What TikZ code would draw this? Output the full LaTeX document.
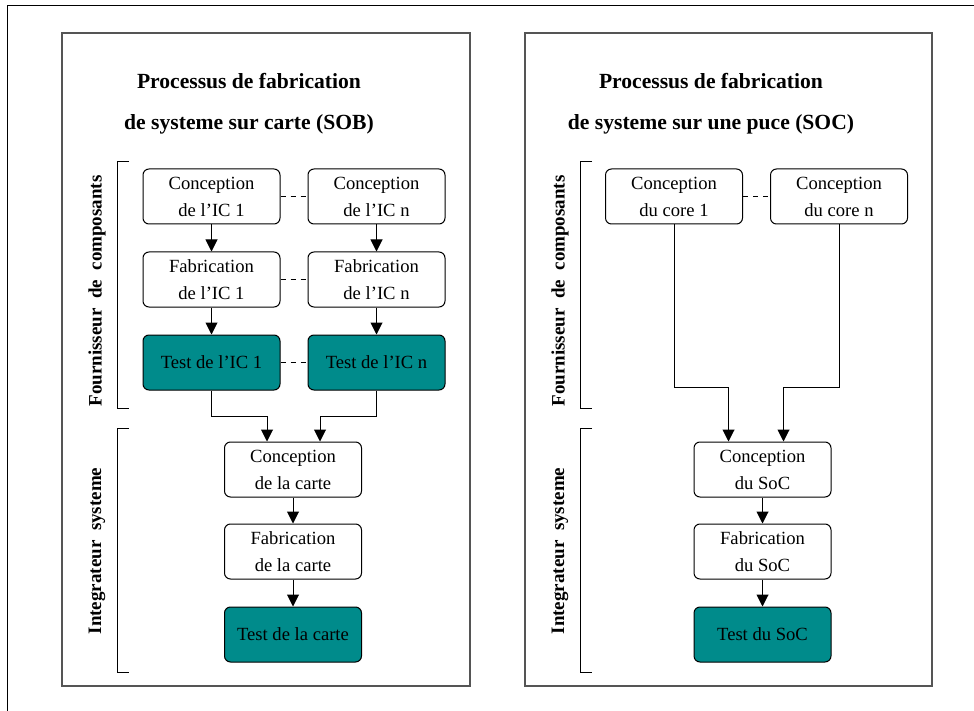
\documentclass[tikz,border=0pt]{standalone}
\usepackage{fontspec}
\setmainfont{Liberation Serif}
\usepackage{tikz}
\usetikzlibrary{arrows.meta, positioning}
\definecolor{socTeal}{HTML}{008B8B}
\definecolor{socFrame}{HTML}{555555}

\begin{document}
\begin{tikzpicture}[
  x=1pt, y=-1pt,
  node distance=27pt and 27pt,
  etape/.style={draw, fill=#1, line width=1pt, rounded corners=6pt,
                align=center, font=\fontsize{18.6}{27}\selectfont,
                minimum width=137pt, minimum height=55pt, inner sep=0pt},
  etape/.default=white,
  arr/.style={-{Triangle[length=12pt,width=12pt]}, line width=1pt},
  lien/.style={line width=1pt, dash pattern=on 5pt off 5pt},
  titre/.style={font=\fontsize{21.6}{41}\selectfont\bfseries, align=center},
  role/.style={font={\fontsize{19}{19}\selectfont\bfseries\spaceskip 0.5em\relax}, rotate=90},
  panneau/.style={draw=socFrame, line width=1.2pt},
  crochet/.style={line width=1pt}
]
  \useasboundingbox (0,0) rectangle (974,711);
  % cadre general
  \draw[line width=1pt] (7,711) -- (7,6) -- (974,6);
  \draw[panneau] (62,33) rectangle (470,686);
  \draw[panneau] (525,33) rectangle (932,686);

  % --- SOB ---
  \node[titre] (titreSob) at (249,104) {Processus de fabrication\\de systeme sur carte (SOB)};
  \draw[crochet] (129,162) -- (117,162) -- (117,408) -- (129,408);
  \draw[crochet] (129,428) -- (117,428) -- (117,672) -- (129,672);
  \node[role] (fourSob) at (97,291) {Fournisseur de composants};
  \node[role] (intSob) at (97,551) {Integrateur systeme};

  \node[etape] (concIc1) at (211.5,196.5) {Conception\\de l'IC 1};
  \node[etape, right=of concIc1] (concIcn) {Conception\\de l'IC n};
  \node[etape, below=of concIc1] (fabIc1) {Fabrication\\de l'IC 1};
  \node[etape, below=of concIcn] (fabIcn) {Fabrication\\de l'IC n};
  \node[etape=socTeal, below=of fabIc1] (testIc1) {Test de l'IC 1};
  \node[etape=socTeal, below=of fabIcn] (testIcn) {Test de l'IC n};

  \node[etape] (concCarte) at (293,469.5) {Conception\\de la carte};
  \node[etape, below=26pt of concCarte] (fabCarte) {Fabrication\\de la carte};
  \node[etape=socTeal, below=of fabCarte] (testCarte) {Test de la carte};

  \draw[lien] (concIc1) -- (concIcn);
  \draw[lien] (fabIc1) -- (fabIcn);
  \draw[lien] (testIc1) -- (testIcn);
  \draw[arr] (concIc1) -- (fabIc1);
  \draw[arr] (fabIc1) -- (testIc1);
  \draw[arr] (concIcn) -- (fabIcn);
  \draw[arr] (fabIcn) -- (testIcn);
  \draw[arr] (testIc1.south) -- ++(0,26) -| ([xshift=-26pt]concCarte.north);
  \draw[arr] (testIcn.south) -- ++(0,26) -| ([xshift=27pt]concCarte.north);
  \draw[arr] (concCarte) -- (fabCarte);
  \draw[arr] (fabCarte) -- (testCarte);

  % --- SOC ---
  \node[titre] (titreSoc) at (711,104) {Processus de fabrication\\de systeme sur une puce (SOC)};
  \draw[crochet] (592,162) -- (580,162) -- (580,408) -- (592,408);
  \draw[crochet] (592,428) -- (580,428) -- (580,672) -- (592,672);
  \node[role] (fourSoc) at (560,291) {Fournisseur de composants};
  \node[role] (intSoc) at (560,551) {Integrateur systeme};

  \node[etape] (concCore1) at (674,196.5) {Conception\\du core 1};
  \node[etape, right=of concCore1] (concCoren) {Conception\\du core n};

  \node[etape] (concSoc) at (762.5,469.5) {Conception\\du SoC};
  \node[etape, below=26pt of concSoc] (fabSoc) {Fabrication\\du SoC};
  \node[etape=socTeal, below=of fabSoc] (testSoc) {Test du SoC};

  \draw[lien] (concCore1) -- (concCoren);
  \draw[arr] (concCore1.south) -- (674,387) -| ([xshift=-34pt]concSoc.north);
  \draw[arr] (concCoren.south) -- ++(0,163) -| ([xshift=21pt]concSoc.north);
  \draw[arr] (concSoc) -- (fabSoc);
  \draw[arr] (fabSoc) -- (testSoc);
\end{tikzpicture}
\end{document}
